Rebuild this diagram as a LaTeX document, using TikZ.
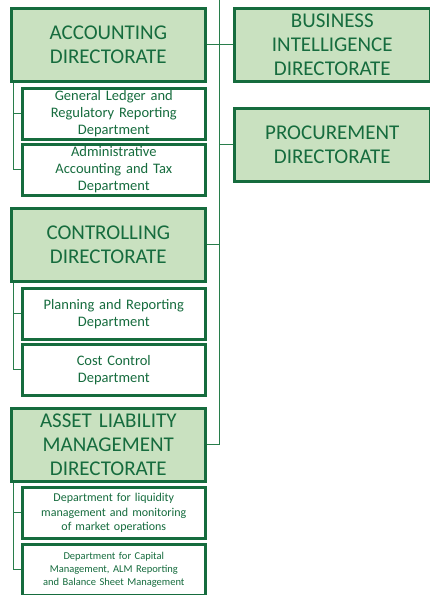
\documentclass[tikz,border=0pt]{standalone}
\usepackage{fontspec}
\setmainfont{Carlito}
\usepackage{xcolor}
\definecolor{orgdark}{RGB}{22,108,62}
\definecolor{orgline}{RGB}{40,125,75}
\definecolor{orgfill}{RGB}{201,225,192}
\usetikzlibrary{positioning}
\tikzset{
    dirbox/.style={draw=orgdark, line width=2.6pt, fill=orgfill, text=orgdark, anchor=north west, inner sep=0pt,
        minimum width=194pt, minimum height=73pt, text width=190pt, align=center, font=\fontsize{21}{24.5}\selectfont},
    deptbox/.style={draw=orgdark, line width=2.6pt, fill=white, text=orgdark, anchor=north west, inner sep=0pt,
        minimum width=183pt, minimum height=51pt, text width=180pt, align=center, font=\fontsize{14.5}{17.3}\selectfont},
    link/.style={draw=orgline, line width=0.9pt},
}
\begin{document}
\begin{tikzpicture}[x=1pt,y=-1pt]
                \useasboundingbox (0,0) rectangle (430,595);
                \coordinate (top) at (219,0);
                \node[dirbox] (acc) at (10,7) {ACCOUNTING\\DIRECTORATE};
                \node[deptbox] (gl) at (21,87) {General Ledger and\\Regulatory Reporting\\Department};
                \node[deptbox] (adm) at (21,143) {Administrative\\Accounting and Tax\\Department};
                \node[dirbox] (ctrl) at (10,207) {CONTROLLING\\DIRECTORATE};
                \node[deptbox] (plan) at (21,287) {Planning and Reporting\\Department};
                \node[deptbox] (cost) at (21,343) {Cost Control\\Department};
                \node[dirbox, font=\fontsize{21}{24}\selectfont] (alm) at (10,407) {ASSET LIABILITY\\MANAGEMENT\\DIRECTORATE};
                \node[deptbox, font=\fontsize{12}{14.2}\selectfont] (liq) at (21,486) {Department for liquidity\\management and monitoring\\of market operations};
                \node[deptbox, font=\fontsize{10.5}{13.3}\selectfont] (cap) at (21,543) {Department for Capital\\Management, ALM Reporting\\and Balance Sheet Management};
                \node[dirbox, minimum width=196pt, font=\fontsize{21}{24}\selectfont] (bi) at (233,7) {BUSINESS\\INTELLIGENCE\\DIRECTORATE};
                \node[dirbox, minimum width=196pt] (proc) at (233,107) {PROCUREMENT\\DIRECTORATE};
                \draw[link] (top) |- (alm.east);
                \draw[link] (acc.east) -- (bi.west);
                \draw[link] (proc.west) -- (proc.west -| top);
                \draw[link] (ctrl.east) -- (ctrl.east -| top);
                \draw[link] ([xshift=3pt]acc.south west) |- (adm.west);
                \draw[link] ([xshift=3pt]acc.south west) |- (gl.west);
                \draw[link] ([xshift=3pt]ctrl.south west) |- (cost.west);
                \draw[link] ([xshift=3pt]ctrl.south west) |- (plan.west);
                \draw[link] ([xshift=3pt]alm.south west) |- (cap.west);
                \draw[link] ([xshift=3pt]alm.south west) |- (liq.west);
            \end{tikzpicture}
\end{document}
